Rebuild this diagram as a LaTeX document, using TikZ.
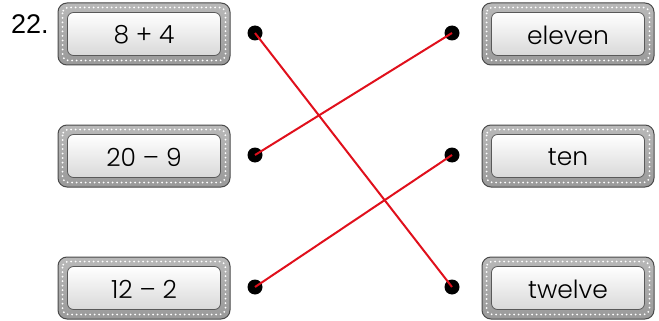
\documentclass[tikz,border=0pt]{standalone}
\usepackage{fontspec}
\setmainfont{Liberation Sans}
\newfontfamily\btnfont{Poppins}[UprightFont=* Light]
\definecolor{lnred}{HTML}{E0101C}
\definecolor{frdark}{HTML}{4A4A4A}
\begin{document}
\begin{tikzpicture}[x=1pt,y=-1pt,
  outerbox/.style={minimum width=172pt,minimum height=62pt,rounded corners=9pt,
     draw=frdark,line width=1pt,top color=gray!55,bottom color=gray!80,inner sep=0pt},
  dot/.style={circle,fill=black,minimum size=15pt,inner sep=0pt},
  lnk/.style={lnred,line width=2pt},
  lbl/.style={font=\btnfont\fontsize{25}{28}\selectfont,text=black}
]
\useasboundingbox (0,0) rectangle (659,321);
\node[font=\fontsize{27}{30}\selectfont,anchor=base west,inner sep=0pt] (num) at (11,34) {22.};
\newcommand{\btn}[3]{%
  \node[outerbox] (#1) at (#2) {};
  \draw[white,line width=2pt,line cap=round,dash pattern=on 0pt off 4.5pt,rounded corners=6pt]
    ([xshift=5pt,yshift=-5pt]#1.north west) rectangle ([xshift=-5pt,yshift=5pt]#1.south east);
  \draw[gray!70!black,line width=0.8pt,rounded corners=6pt,top color=white,bottom color=gray!30]
    ([xshift=10pt,yshift=-10pt]#1.north west) rectangle ([xshift=-10pt,yshift=10pt]#1.south east);
  \node[lbl] (#1t) at ([yshift=-1pt]#2) {#3};
}
\btn{a1}{144,34}{8 + 4}
\btn{a2}{144,156}{20 – 9}
\btn{a3}{144,288}{12 – 2}
\btn{b1}{568,34}{eleven}
\btn{b2}{568,156}{ten}
\btn{b3}{568,288}{twelve}
\node[dot] (l1) at (255,33) {};
\node[dot] (l2) at (255,155) {};
\node[dot] (l3) at (255,287) {};
\node[dot] (r1) at (452,33) {};
\node[dot] (r2) at (452,155) {};
\node[dot] (r3) at (452,287) {};
\draw[lnk] (l1.center) -- (r3.center);
\draw[lnk] (l2.center) -- (r1.center);
\draw[lnk] (l3.center) -- (r2.center);
\end{tikzpicture}
\end{document}
